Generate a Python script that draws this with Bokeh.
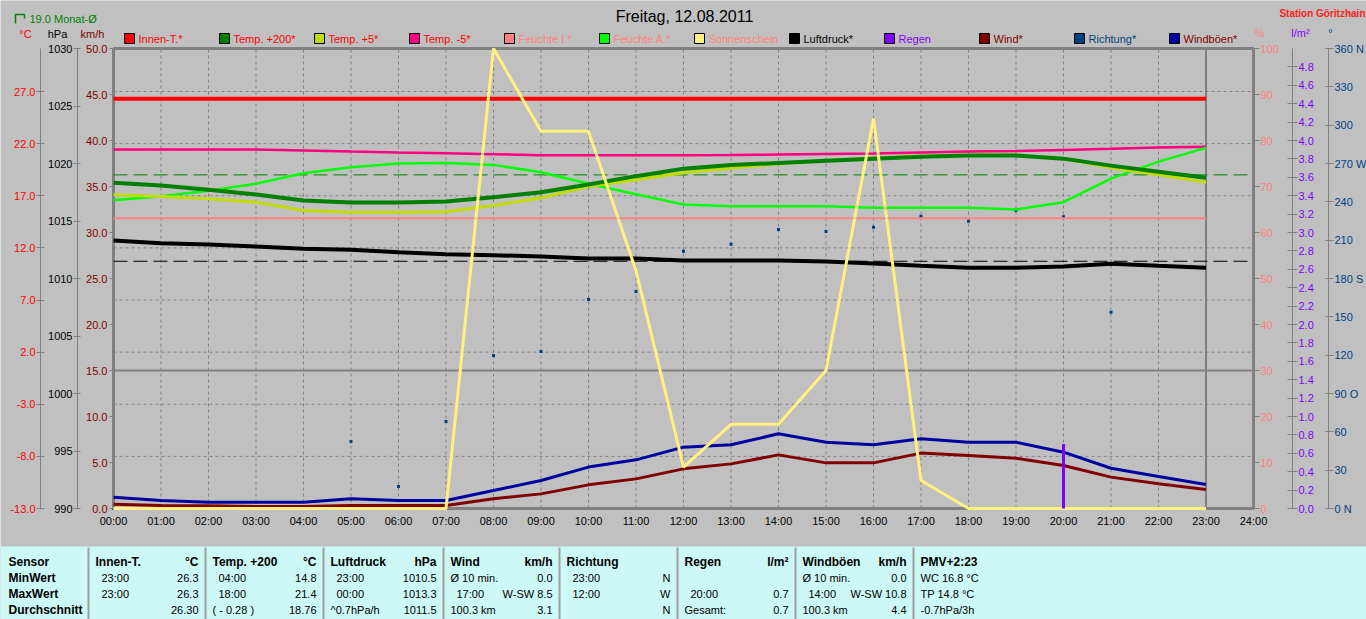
from bokeh.plotting import figure
from bokeh.models import Range1d, LinearAxis, FixedTicker, NumeralTickFormatter, ColumnDataSource
from bokeh.core.properties import value
from bokeh.embed import file_html
from bokeh.resources import INLINE

# ------------------------------------------------------------------ data
title_text = "Freitag, 12.08.2011"
station_text = "Station Göritzhain"
month_avg_text = "19.0 Monat-Ø"

hours = [0, 1, 2, 3, 4, 5, 6, 7, 8, 9, 10, 11, 12, 13, 14, 15, 16, 17, 18, 19, 20, 21, 22, 23]
hour_ticks = [0, 1, 2, 3, 4, 5, 6, 7, 8, 9, 10, 11, 12, 13, 14, 15, 16, 17, 18, 19, 20, 21, 22, 23, 24]
hour_labels = ["%02d:00" % h for h in hour_ticks]

# temperatures (deg C)
innen_t = [26.3, 26.3, 26.3, 26.3, 26.3, 26.3, 26.3, 26.3, 26.3, 26.3, 26.3, 26.3,
           26.3, 26.3, 26.3, 26.3, 26.3, 26.3, 26.3, 26.3, 26.3, 26.3, 26.3, 26.3]
temp_200 = [18.24, 17.98, 17.57, 17.12, 16.54, 16.35, 16.35, 16.45, 16.86, 17.34, 18.08, 18.88,
            19.6, 19.95, 20.15, 20.35, 20.55, 20.75, 20.85, 20.85, 20.56, 19.89, 19.31, 18.72]
temp_5 = [17.09, 16.93, 16.71, 16.38, 15.59, 15.42, 15.42, 15.46, 16.06, 16.8, 17.89, 18.53,
          19.2, 19.65, 20.05, 20.35, 20.62, 20.82, 20.92, 20.92, 20.56, 19.69, 19.02, 18.3]
temp_m5 = [21.44, 21.44, 21.44, 21.44, 21.34, 21.24, 21.15, 21.08, 20.99, 20.89, 20.89, 20.89,
           20.89, 20.9, 20.95, 21.0, 21.05, 21.15, 21.25, 21.3, 21.4, 21.5, 21.62, 21.71]
# humidity / sunshine (%)
feuchte_i = [63.1, 63.1, 63.1, 63.1, 63.1, 63.1, 63.1, 63.1, 63.1, 63.1, 63.1, 63.1,
             63.1, 63.1, 63.1, 63.1, 63.1, 63.1, 63.1, 63.1, 63.1, 63.1, 63.1, 63.1]
feuchte_a = [67.0, 67.9, 69.1, 70.6, 72.9, 74.2, 75.0, 75.1, 74.7, 73.1, 70.6, 68.3,
             66.1, 65.7, 65.7, 65.7, 65.4, 65.4, 65.4, 65.0, 66.6, 71.7, 75.4, 78.4]
sonne = [0, 0, 0, 0, 0, 0, 0, 0, 100, 82, 82, 51.7,
         9, 18.3, 18.3, 30, 84.8, 6.1, 0, 0, 0, 0, 0, 0]
# pressure (hPa)
luftdruck = [1013.3, 1013.07, 1012.96, 1012.78, 1012.58, 1012.5, 1012.29, 1012.11, 1012.03, 1011.91, 1011.74, 1011.74,
             1011.57, 1011.57, 1011.57, 1011.48, 1011.3, 1011.1, 1010.93, 1010.93, 1011.04, 1011.28, 1011.1, 1010.93]
# rain (l/m2)
regen = [0, 0, 0, 0, 0, 0, 0, 0, 0, 0, 0, 0, 0, 0, 0, 0, 0, 0, 0, 0, 0.7, 0, 0, 0]
# wind (km/h)
wind = [0.45, 0.33, 0.3, 0.22, 0.22, 0.33, 0.33, 0.33, 1.05, 1.59, 2.57, 3.22,
        4.31, 4.85, 5.83, 4.96, 4.96, 6.02, 5.76, 5.47, 4.67, 3.41, 2.68, 2.07]
windboeen = [1.23, 0.87, 0.69, 0.69, 0.69, 1.05, 0.87, 0.87, 1.96, 3.04, 4.5, 5.29,
             6.67, 6.92, 8.12, 7.21, 6.92, 7.57, 7.21, 7.21, 6.12, 4.38, 3.48, 2.61]
# wind direction (deg)
richtung = [0, 0, 0, 0, 0, 52.4, 17.2, 68.1, 119.7, 122.9, 163.6, 169.8,
            201.4, 206.8, 218.3, 216.8, 220.2, 228.8, 224.8, 233.2, 228.3, 153.6, 0, 0]

month_avg_temp = 19.0
avg_pressure = 1011.5
wind_separator = 15.0

# axis ticks
temp_ticks = [-13.0, -8.0, -3.0, 2.0, 7.0, 12.0, 17.0, 22.0, 27.0]
hpa_ticks = [990, 995, 1000, 1005, 1010, 1015, 1020, 1025, 1030]
kmh_ticks = [0, 5, 10, 15, 20, 25, 30, 35, 40, 45, 50]
pct_ticks = [0, 10, 20, 30, 40, 50, 60, 70, 80, 90, 100]
rain_ticks = [0.0, 0.2, 0.4, 0.6, 0.8, 1.0, 1.2, 1.4, 1.6, 1.8, 2.0, 2.2, 2.4, 2.6, 2.8, 3.0,
              3.2, 3.4, 3.6, 3.8, 4.0, 4.2, 4.4, 4.6, 4.8]
deg_ticks = [0, 30, 60, 90, 120, 150, 180, 210, 240, 270, 300, 330, 360]
deg_labels = ["0 N", "30", "60", "90 O", "120", "150", "180 S", "210", "240", "270 W", "300", "330", "360 N"]

legend_names = ["Innen-T.*", "Temp. +200*", "Temp. +5*", "Temp. -5*", "Feuchte I.*", "Feuchte A.*",
                "Sonnenschein", "Luftdruck*", "Regen", "Wind*", "Richtung*", "Windböen*"]

# table
table_row_labels = ["Sensor", "MinWert", "MaxWert", "Durchschnitt"]
table_heads = ["Innen-T.", "Temp. +200", "Luftdruck", "Wind", "Richtung", "Regen", "Windböen", "PMV+2:23"]
table_units = ["°C", "°C", "hPa", "km/h", "", "l/m²", "km/h", ""]
table_left = [
    ["23:00", "23:00", ""],
    ["04:00", "18:00", "( - 0.28 )"],
    ["23:00", "00:00", "^0.7hPa/h"],
    ["Ø 10 min.", "17:00", "100.3 km"],
    ["23:00", "12:00", ""],
    ["", "20:00", "Gesamt:"],
    ["Ø 10 min.", "14:00", "100.3 km"],
    ["WC 16.8 °C", "TP 14.8 °C", "-0.7hPa/3h"],
]
table_right = [
    ["26.3", "26.3", "26.30"],
    ["14.8", "21.4", "18.76"],
    ["1010.5", "1013.3", "1011.5"],
    ["0.0", "W-SW 8.5", "3.1"],
    ["N", "W", "N"],
    ["", "0.7", "0.7"],
    ["0.0", "W-SW 10.8", "4.4"],
    ["", "", ""],
]

# ------------------------------------------------------------------ styles
BG = "#C0C0C0"
GRID = "#808080"
FONT = "Liberation Sans"
C_INNEN = "#FF0000"
C_T200 = "#008000"
C_T5 = "#C0DC00"
C_TM5 = "#FF0080"
C_FI = "#FF8080"
C_FA = "#00FF00"
C_SUN = "#FFF080"
C_P = "#000000"
C_RAIN = "#8000FF"
C_WIND = "#800000"
C_DIR = "#004080"
C_GUST = "#0000A0"
legend_box_colors = [C_INNEN, C_T200, C_T5, C_TM5, C_FI, C_FA, C_SUN, C_P, C_RAIN, C_WIND, C_DIR, C_GUST]
legend_text_colors = ["#FF0000", "#FF0000", "#FF0000", "#FF0000", "#FF8080", "#FF8080", "#FF8080",
                      "#000000", "#8000FF", "#800000", "#004080", "#800000"]

# ------------------------------------------------------------------ layout
W, H = 1366, 619
L, R, T, B = 113, 1253, 48, 508
pxh = (R - L) / 24.0


def vrange(v0, v1):
    k = (v1 - v0) / (B - T)
    return Range1d(start=v0 - (H - B) * k, end=v1 + T * k)


t_top = -13 + (B - T) * 40.0 / (508 - 91)

p = figure(width=W, height=H, x_range=Range1d(0, W), y_range=Range1d(H, 0),
           x_axis_location=None, y_axis_location=None, toolbar_location=None, tools="",
           output_backend="svg", min_border=0, background_fill_color=BG,
           border_fill_color=BG, outline_line_color=None)
p.grid.visible = False
p.extra_x_ranges = {"hour": Range1d(start=-L / pxh, end=24 + (W - R) / pxh)}
p.extra_y_ranges = {
    "temp": vrange(-13, t_top),
    "hpa": vrange(990, 1030),
    "kmh": vrange(0, 50),
    "pct": vrange(0, 100),
    "rain": vrange(0, 5),
    "deg": vrange(0, 360),
}


def vaxis(rng, side, loc, ticks, fmt, color, bounds, t_in, t_out, standoff, line=True, overrides=None):
    ax = LinearAxis(y_range_name=rng, fixed_location=loc,
                    ticker=FixedTicker(ticks=ticks, minor_ticks=[]),
                    formatter=NumeralTickFormatter(format=fmt), bounds=bounds)
    ax.axis_line_color = GRID if line else None
    ax.axis_line_width = 1
    ax.major_tick_line_color = GRID
    ax.major_tick_in = t_in
    ax.major_tick_out = t_out
    ax.minor_tick_line_color = None
    ax.major_label_standoff = standoff
    ax.major_label_text_color = color
    ax.major_label_text_font = FONT
    ax.major_label_text_font_size = "11px"
    if overrides:
        ax.major_label_overrides = overrides
    p.add_layout(ax, side)


def txt(xs, ys, texts, colors, size="11px", align="left", bold=False):
    if isinstance(colors, str):
        colors = [colors] * len(xs)
    src = ColumnDataSource(dict(x=xs, y=ys, text=texts, c=colors))
    p.text(x="x", y="y", text="text", source=src, text_color="c", text_font=value(FONT),
           text_font_size=size, text_align=align, text_baseline="middle",
           text_font_style="bold" if bold else "normal")


# ----- grid
grid_hours = hour_ticks[1:-2]
p.segment(x0=grid_hours, x1=grid_hours, y0=[kmh_ticks[0]] * len(grid_hours), y1=[kmh_ticks[-1]] * len(grid_hours),
          x_range_name="hour", y_range_name="kmh", line_color=GRID, line_dash="3 3", line_width=1)
hgrid = temp_ticks[1:]
p.segment(x0=[hour_ticks[0]] * len(hgrid), x1=[hour_ticks[-1]] * len(hgrid), y0=hgrid, y1=hgrid,
          x_range_name="hour", y_range_name="temp", line_color=GRID, line_dash="3 3", line_width=1)

# wind direction dots (under frame)
p.scatter(hours, richtung, marker="square", size=3, fill_color=C_DIR, line_color=None,
          x_range_name="hour", y_range_name="deg")

# frame & separators
p.quad(left=[hour_ticks[0]], right=[hour_ticks[-1]], bottom=[kmh_ticks[0]], top=[kmh_ticks[-1]],
       fill_color=None, line_color=GRID, line_width=3, x_range_name="hour", y_range_name="kmh")
p.segment(x0=[hour_ticks[0]], x1=[hour_ticks[-1]], y0=[wind_separator], y1=[wind_separator],
          x_range_name="hour", y_range_name="kmh", line_color=GRID, line_width=2)
p.segment(x0=[hours[-1]], x1=[hours[-1]], y0=[kmh_ticks[0]], y1=[kmh_ticks[-1]],
          x_range_name="hour", y_range_name="kmh", line_color=GRID, line_width=2)

# average lines
p.segment(x0=[hour_ticks[0]], x1=[hour_ticks[-1]], y0=[month_avg_temp], y1=[month_avg_temp],
          x_range_name="hour", y_range_name="temp", line_color=C_T200, line_dash="14 6", line_width=1)
p.segment(x0=[hour_ticks[0]], x1=[hour_ticks[-1]], y0=[avg_pressure], y1=[avg_pressure],
          x_range_name="hour", y_range_name="hpa", line_color=C_P, line_dash="14 6", line_width=1)

# ----- series
p.line(hours, feuchte_i, x_range_name="hour", y_range_name="pct", line_color=C_FI, line_width=2)
p.line(hours, temp_m5, x_range_name="hour", y_range_name="temp", line_color=C_TM5, line_width=2.5)
p.line(hours, feuchte_a, x_range_name="hour", y_range_name="pct", line_color=C_FA, line_width=2.5)
p.line(hours, temp_5, x_range_name="hour", y_range_name="temp", line_color=C_T5, line_width=3)
p.line(hours, temp_200, x_range_name="hour", y_range_name="temp", line_color=C_T200, line_width=4)
p.line(hours, innen_t, x_range_name="hour", y_range_name="temp", line_color=C_INNEN, line_width=4)
p.line(hours, luftdruck, x_range_name="hour", y_range_name="hpa", line_color=C_P, line_width=4)
p.line(hours, windboeen, x_range_name="hour", y_range_name="kmh", line_color=C_GUST, line_width=3)
p.line(hours, wind, x_range_name="hour", y_range_name="kmh", line_color=C_WIND, line_width=3)
p.line(hours, sonne, x_range_name="hour", y_range_name="pct", line_color=C_SUN, line_width=3)
p.vbar(x=hours, top=regen, bottom=0, width=3.0 / pxh, x_range_name="hour", y_range_name="rain",
       fill_color=C_RAIN, line_color=None)

# ----- axes
vaxis("temp", "left", 40, temp_ticks, "0.0", "#FF0000", (-13, t_top), 4, 4, 1)
vaxis("hpa", "left", 77, hpa_ticks, "0", "#000000", (990, 1030), 3, 4, 1)
vaxis("kmh", "left", L, kmh_ticks, "0.0", "#800000", (0, 50), 0, 4, 2, line=False)
vaxis("pct", "right", R, pct_ticks, "0", "#FF8080", (0, 100), 0, 6, 1, line=False)
vaxis("rain", "right", 1292, rain_ticks, "0.0", "#8000FF", (0, 5), 5, 5, 1)
vaxis("deg", "right", 1328, deg_ticks, "0", "#004080", (0, 360), 3, 5, 1,
      overrides={t: s for t, s in zip(deg_ticks, deg_labels)})

xax = LinearAxis(x_range_name="hour", fixed_location=B,
                 ticker=FixedTicker(ticks=hour_ticks, minor_ticks=[]))
xax.major_label_overrides = {t: s for t, s in zip(hour_ticks, hour_labels)}
xax.axis_line_color = None
xax.major_tick_line_color = None
xax.major_tick_in = 0
xax.major_tick_out = 0
xax.minor_tick_line_color = None
xax.major_label_standoff = 6
xax.major_label_text_color = "#000000"
xax.major_label_text_font = FONT
xax.major_label_text_font_size = "11px"
p.add_layout(xax, "below")

# ----- header texts
txt([684], [16], [title_text], "#000000", size="16px", align="center")
txt([W - 1], [13], [station_text], "#FF2020", size="10px", align="right", bold=True)
p.line([15, 15, 24, 24], [23, 14, 14, 18], line_color=C_T200, line_width=1.5)
txt([29], [18], [month_avg_text], C_T200, size="11px")
txt([25, 57, 92], [33] * 3, ["°C", "hPa", "km/h"], ["#FF0000", "#000000", "#800000"], align="center")
txt([1259, 1300, 1330], [32] * 3, ["%", "l/m²", "°"], ["#FF8080", "#8000FF", "#004080"], align="center")

# ----- legend
leg_x = [124 + 95 * i for i in range(len(legend_names))]
p.rect(x=[x + 5 for x in leg_x], y=[38] * len(leg_x), width=10, height=10,
       fill_color=legend_box_colors, line_color="#000000", line_width=1)
txt([x + 14 for x in leg_x], [38] * len(leg_x), legend_names, legend_text_colors)

# ----- table
tab_top = 546
p.quad(left=[0], right=[W], top=[tab_top], bottom=[H], fill_color="#CCF8F5", line_color=None)
col_sep = [88, 205, 323, 443, 559, 677, 795, 913]
p.segment(x0=col_sep, x1=col_sep, y0=[tab_top + 1] * len(col_sep), y1=[H] * len(col_sep),
          line_color="#A0A0A0", line_width=2)
row_y = [561, 577, 593, 609]
txt([8] * 4, row_y, table_row_labels, "#000000", size="12px", bold=True)
col_right = col_sep[1:] + [None]
hx, hy, ht = [], [], []
ux, uy, ut = [], [], []
lx, ly, lt = [], [], []
rx, ry, rt = [], [], []
for i, sep in enumerate(col_sep):
    hx.append(sep + 7); hy.append(row_y[0]); ht.append(table_heads[i])
    if table_units[i] and col_right[i] is not None:
        ux.append(col_right[i] - 7); uy.append(row_y[0]); ut.append(table_units[i])
    for r in range(3):
        s = table_left[i][r]
        if s:
            is_time = len(s) == 5 and s[2] == ":"
            lx.append(sep + (13 if is_time else 7)); ly.append(row_y[r + 1]); lt.append(s)
        s2 = table_right[i][r]
        if s2 and col_right[i] is not None:
            rx.append(col_right[i] - 7); ry.append(row_y[r + 1]); rt.append(s2)
txt(hx, hy, ht, "#000000", size="12px", bold=True)
txt(ux, uy, ut, "#000000", size="12px", align="right", bold=True)
txt(lx, ly, lt, "#000000", size="11px")
txt(rx, ry, rt, "#000000", size="11px", align="right")

open("out.html", "w").write(file_html(p, INLINE))
